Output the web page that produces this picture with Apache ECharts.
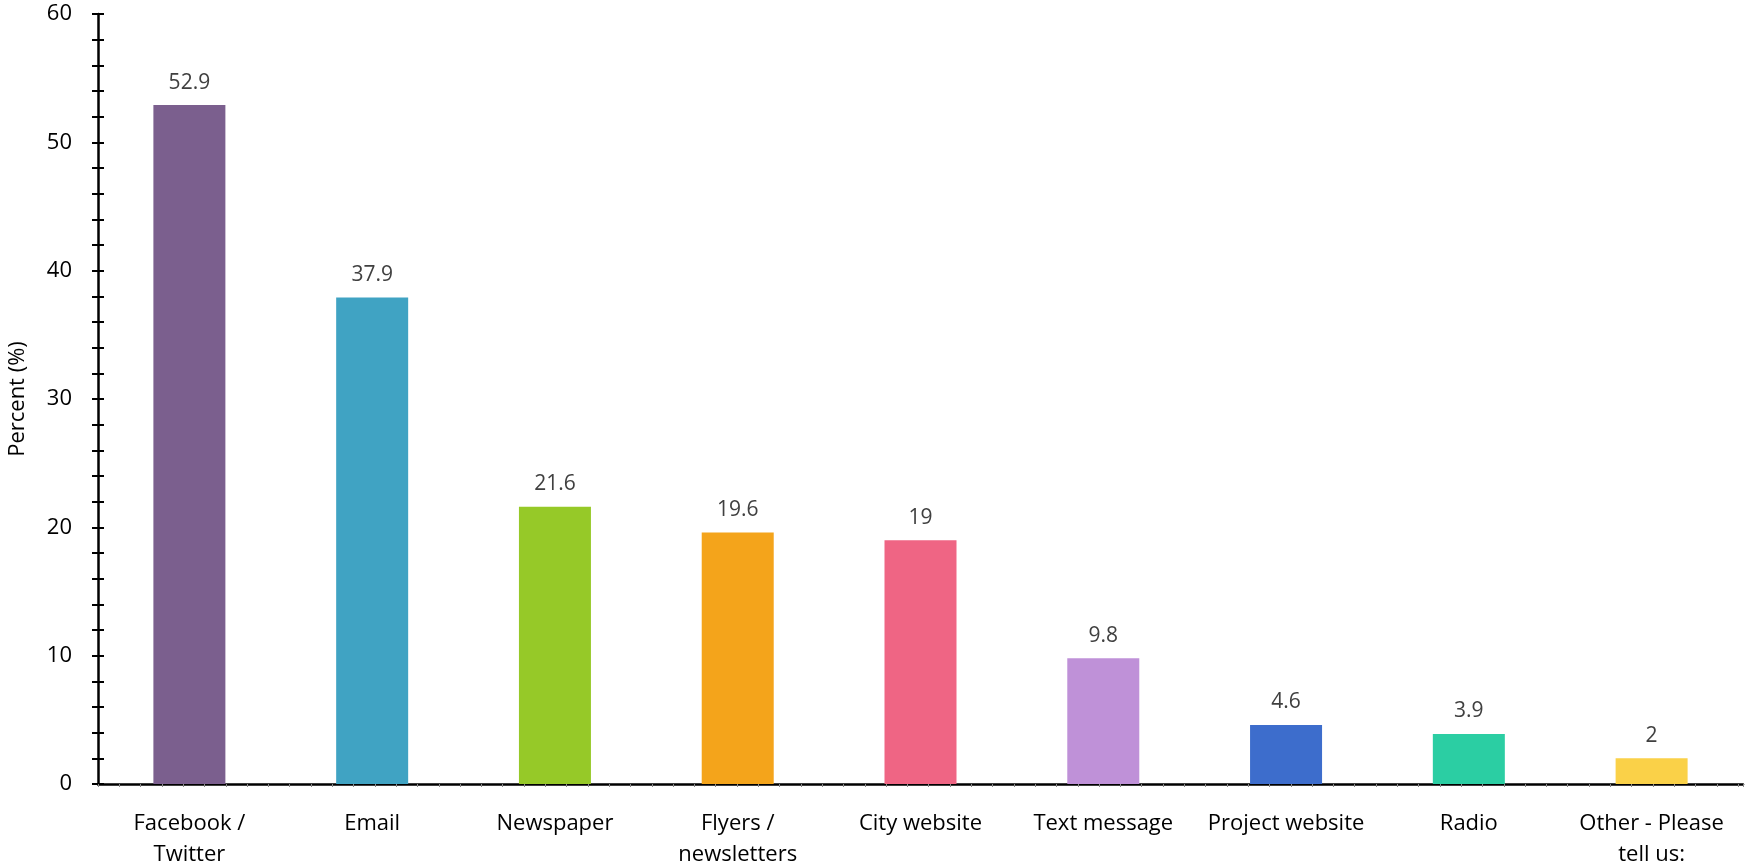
<!DOCTYPE html>
<html>
<head>
<meta charset="utf-8">
<script src="https://cdn.jsdelivr.net/npm/echarts@6/dist/echarts.min.js"></script>
<style>
  html, body { margin: 0; padding: 0; background: #fff; }
  #chart { width: 1750px; height: 865px; }
</style>
</head>
<body>
<div id="chart"></div>
<script>
var categories = ['Facebook /\nTwitter', 'Email', 'Newspaper', 'Flyers /\nnewsletters', 'City website',
    'Text message', 'Project website', 'Radio', 'Other - Please\ntell us:'];
var values = [52.9, 37.9, 21.6, 19.6, 19, 9.8, 4.6, 3.9, 2];
var colors = ['#7B5F8E', '#40A3C3', '#96C928', '#F4A41B', '#EF6584', '#BF91D8', '#3D6DCC', '#2BCEA3', '#FAD148'];

var font = 'Open Sans';
var chart = echarts.init(document.getElementById('chart'));

var data = [];
for (var i = 0; i < values.length; i++) {
    data.push({ value: values[i], itemStyle: { color: colors[i] } });
}

chart.setOption({
    animation: false,
    grid: { left: 98, right: 7, top: 14, bottom: 81, containLabel: false, outerBoundsMode: 'none' },
    xAxis: [{
        type: 'category',
        data: categories,
        axisLine: { lineStyle: { color: '#000', width: 2.5 } },
        axisTick: { show: false },
        axisLabel: { color: '#000', fontSize: 22, fontFamily: font, margin: 24, lineHeight: 31, interval: 0 }
    }, {
        // faint minor ticks along the base line
        type: 'value', min: 0, max: 1645, interval: 21.3, position: 'bottom',
        axisLine: { show: false },
        axisTick: { show: true, length: 3, lineStyle: { color: '#888', width: 1 } },
        axisLabel: { show: false },
        splitLine: { show: false }
    }],
    yAxis: [{
        type: 'value',
        min: 0, max: 60, interval: 10,
        name: 'Percent (%)',
        nameLocation: 'middle',
        nameGap: 69,
        nameTextStyle: { color: '#000', fontSize: 22, fontFamily: font },
        axisLine: { show: true, lineStyle: { color: '#000', width: 2.5 } },
        axisTick: { show: true, length: 6, lineStyle: { color: '#000', width: 2 } },
        minorTick: { show: true, splitNumber: 5, length: 6, lineStyle: { color: '#000', width: 2 } },
        axisLabel: { color: '#000', fontSize: 22, fontFamily: font, margin: 26 },
        splitLine: { show: false }
    }, {
        type: 'value',
        min: 0, max: 60, interval: 10, position: 'left',
        axisLine: { show: false },
        axisTick: { show: true, inside: true, length: 6, lineStyle: { color: '#000', width: 2 } },
        minorTick: { show: true, splitNumber: 5, length: 6, lineStyle: { color: '#000', width: 2 } },
        axisLabel: { show: false },
        splitLine: { show: false }
    }],
    series: [{
        type: 'bar',
        xAxisIndex: 0,
        yAxisIndex: 0,
        data: data,
        barWidth: 72,
        label: {
            show: true,
            position: 'top',
            distance: 12,
            color: '#404040',
            fontSize: 21,
            fontFamily: font
        }
    }]
});
</script>
</body>
</html>
